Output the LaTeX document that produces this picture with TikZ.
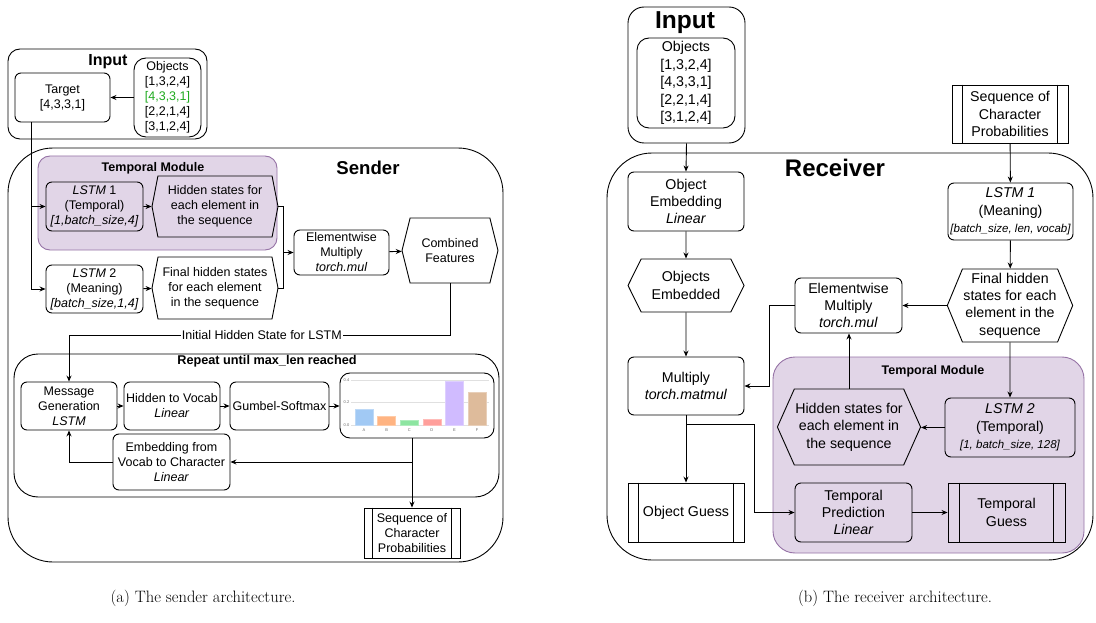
\documentclass[tikz,border=0pt]{standalone}
\usepackage{fontspec}
\newfontfamily\arialf{Liberation Sans}
\usetikzlibrary{calc,arrows.meta,shapes.symbols}

\definecolor{tmfill}{HTML}{E1D5E7}
\definecolor{tmline}{HTML}{9673A6}
\definecolor{pickgreen}{RGB}{30,170,30}
\definecolor{barA}{HTML}{A1C9F4}
\definecolor{barB}{HTML}{FFB482}
\definecolor{barC}{HTML}{8DE5A1}
\definecolor{barD}{HTML}{FF9F9B}
\definecolor{barE}{HTML}{D0BBFF}
\definecolor{barF}{HTML}{DEBB9B}

\def\lfont{\arialf\fontsize{12.5}{15}\selectfont}
\def\rfont{\arialf\fontsize{14.2}{17.4}\selectfont}
\def\sidebars(#1)(#2){\draw ($(#1.north west)+(#2,0)$) -- ($(#1.south west)+(#2,0)$); \draw ($(#1.north east)+(-#2,0)$) -- ($(#1.south east)+(-#2,0)$);}

\tikzset{
  frame/.style={draw, rounded corners=#1, inner sep=0pt},
  box/.style={draw, rounded corners=6pt, align=center, inner sep=1pt},
  hexa/.style={draw, shape=signal, signal to=east and west, signal pointer angle=#1, align=center, inner sep=1pt},
  procbox/.style={draw, align=center, inner sep=1pt},
  module/.style={draw=tmline, fill=tmfill, rounded corners=#1, inner sep=0pt},
  heading/.style={font=\arialf\bfseries\fontsize{#1}{#1}\selectfont},
  flow/.style={-{Stealth[length=6pt,width=5pt]}},
  gridline/.style={draw=black!12, line width=0.6pt},
}

\begin{document}
\begin{tikzpicture}[x=1pt, y=-1pt, line width=0.9pt]
  \useasboundingbox (0,0) rectangle (1096,623);

  %%%%% SENDER %%%%%

  % containers
  \node[frame=12pt, minimum width=199pt, minimum height=90pt] (inL) at (107.5,94) {};
  \node[heading=16] (inLtitle) at (108,62) {Input};
  \node[frame=45pt, minimum width=495pt, minimum height=414pt] (sendL) at (255.5,355) {};
  \node[heading=18.6] (sendLtitle) at (368,168) {Sender};
  \node[module=12pt, minimum width=239pt, minimum height=94pt] (tmL) at (157.5,203) {};
  \node[heading=12.5] (tmLtitle) at (153,168) {Temporal Module};
  \node[frame=24pt, minimum width=485pt, minimum height=143pt] (repL) at (256.5,425.5) {};
  \node[heading=12.7] (repLtitle) at (267,361) {Repeat until max\_len reached};

  % input
  \node[box, rounded corners=12pt, font=\lfont, minimum width=67pt, minimum height=79pt] (objL) at (167.5,97.5)
    {Objects\\{[1,3,2,4]}\\\textcolor{pickgreen}{[4,3,3,1]}\\{[2,2,1,4]}\\{[3,1,2,4]}};
  \node[box, font=\lfont, minimum width=95pt, minimum height=49pt] (tgtL) at (62.5,97.5) {Target\\{[4,3,3,1]}};

  % encoders
  \node[box, font=\lfont, minimum width=97pt, minimum height=49pt] (lstmA) at (94.5,206.5)
    {\textit{LSTM} 1\\(Temporal)\\{\itshape [1,batch\_size,4]}};
  \node[hexa=158, font=\lfont, minimum width=126pt, minimum height=61pt] (hidA) at (215,206.5)
    {Hidden states for\\each element in\\the sequence};
  \node[box, font=\lfont, minimum width=97pt, minimum height=48pt] (lstmB) at (94.5,289)
    {\textit{LSTM} 2\\(Meaning)\\{\itshape [batch\_size,1,4]}};
  \node[hexa=158, font=\lfont, minimum width=126pt, minimum height=62pt] (finB) at (215,288)
    {Final hidden states\\for each element\\in the sequence};
  \node[box, font=\lfont, minimum width=95pt, minimum height=45pt] (mulL) at (341.5,252.5)
    {Elementwise\\Multiply\\\textit{torch.mul}};
  \node[hexa=152, font=\lfont, minimum width=96pt, minimum height=65pt] (combL) at (450,250.5)
    {Combined\\Features};

  % message loop
  \node[box, font=\lfont, minimum width=96pt, minimum height=48pt] (msgL) at (69,406)
    {Message\\Generation\\\textit{LSTM}};
  \node[box, font=\lfont, minimum width=96pt, minimum height=48pt] (h2vL) at (172,406)
    {Hidden to Vocab\\\textit{Linear}};
  \node[box, font=\lfont, minimum width=99pt, minimum height=48pt] (gumL) at (279.5,406) {Gumbel-Softmax};
  \node[box, rounded corners=10pt, minimum width=154pt, minimum height=65pt] (chartL) at (417,405.5) {};
  \node[box, font=\lfont, minimum width=117pt, minimum height=56pt] (embL) at (171.5,462)
    {Embedding from\\Vocab to Character\\\textit{Linear}};
  \node[procbox, font=\lfont, minimum width=96pt, minimum height=50pt] (seqL) at (412,533)
    {Sequence of\\Character\\Probabilities};
  \sidebars(seqL)(9)

  % character distribution
  \foreach \gy/\gv [count=\g] in {425/0.0, 402.5/0.2, 380/0.4} {
    \draw[gridline] (351,\gy) -- (489,\gy);
    \node[font=\arialf\fontsize{4}{4}\selectfont, text=black!60, inner sep=0pt] (tickY\g) at (346.5,\gy) {\gv};
  }
  \foreach \lt/\val/\col [count=\i from 0] in {A/0.14/barA, B/0.08/barB, C/0.04/barC, D/0.05/barD, E/0.39/barE, F/0.29/barF} {
    \filldraw[fill=\col, draw=\col!70!white, line width=0.4pt] ({355+22.6*\i},425) rectangle ++(18,{-112.5*\val});
    \node[font=\arialf\fontsize{4}{4}\selectfont, text=black!60, inner sep=0pt] (tickX\i) at ({364+22.6*\i},430) {\lt};
  }

  % sender connectors
  \draw[flow] (objL) -- (tgtL);
  \coordinate (tgtfoot) at ($(tgtL.south west)+(17,0)$);
  \draw[flow] (tgtfoot) |- (lstmA.west);
  \draw[flow] (tgtfoot) |- (lstmB.west);
  \draw[flow] (lstmA) -- (hidA);
  \draw[flow] (lstmB) -- (finB);
  \draw (hidA.east) -- ++(5,0) |- (finB.east);
  \coordinate (joinL) at ($(hidA.east)+(5,0)$);
  \draw[flow] (joinL |- mulL.west) -- (mulL.west);
  \draw[flow] (mulL) -- (combL);
  \coordinate (bendL) at (69,335);
  \draw[flow] (combL.south) |- node[pos=0.747, fill=white, inner sep=1pt, font=\lfont] (initL) {Initial Hidden State for LSTM} (bendL) -- (msgL.north);
  \draw[flow] (msgL) -- (h2vL);
  \draw[flow] (h2vL) -- (gumL);
  \draw[flow] (gumL.east) -- (gumL.east -| chartL.west);
  \draw[flow] (seqL.north |- chartL.south) -- (seqL.north);
  \draw[flow] (seqL.north |- embL.east) -- (embL.east);
  \draw[flow] (embL.west) -| (msgL.south);

  %%%%% RECEIVER %%%%%

  % containers
  \node[frame=16pt, minimum width=117pt, minimum height=136pt] (inR) at (686.5,75) {};
  \node[heading=24.5] (inRtitle) at (685,23) {Input};
  \node[frame=45pt, minimum width=486pt, minimum height=407pt] (recR) at (850,356.5) {};
  \node[heading=24] (recRtitle) at (835,168) {Receiver};
  \node[module=22pt, minimum width=311pt, minimum height=196pt] (tmR) at (928.5,455) {};
  \node[heading=12.5] (tmRtitle) at (933,371) {Temporal Module};

  % object branch
  \node[box, rounded corners=12pt, font=\rfont, minimum width=98pt, minimum height=90pt] (objR) at (686,83)
    {Objects\\{[1,3,2,4]}\\{[4,3,3,1]}\\{[2,2,1,4]}\\{[3,1,2,4]}};
  \node[box, font=\rfont, minimum width=116pt, minimum height=59pt] (embR) at (686,201.5)
    {Object\\Embedding\\\textit{Linear}};
  \node[hexa=127, font=\rfont, minimum width=116pt, minimum height=53pt] (oembR) at (686,285.5)
    {Objects\\Embedded};
  \node[box, font=\rfont, minimum width=116pt, minimum height=58pt] (mmR) at (686,386)
    {Multiply\\\textit{torch.matmul}};
  \node[procbox, font=\rfont, minimum width=116pt, minimum height=59pt] (ogR) at (686,512.5) {Object Guess};
  \sidebars(ogR)(11)

  % message branch
  \node[procbox, font=\rfont, minimum width=116pt, minimum height=58pt] (seqR) at (1010,114)
    {Sequence of\\Character\\Probabilities};
  \sidebars(seqR)(11)
  \node[box, font=\rfont, minimum width=125pt, minimum height=57pt] (lstmR1) at (1010.5,211.5)
    {\textit{LSTM 1}\\(Meaning)\\{\itshape\fontsize{11.5}{13}\selectfont [batch\_size, len, vocab]}};
  \node[hexa=135, font=\rfont, minimum width=116pt, minimum height=73pt] (finR) at (1010,305.5)
    {Final hidden\\states for each\\element in the\\sequence};
  \node[box, font=\rfont, minimum width=107pt, minimum height=55pt] (mulR) at (848.5,305.5)
    {Elementwise\\Multiply\\\textit{torch.mul}};

  % temporal module
  \node[box, font=\rfont, minimum width=130pt, minimum height=59pt] (lstmR2) at (1010,427.5)
    {\textit{LSTM 2}\\(Temporal)\\{\itshape\fontsize{11.5}{13}\selectfont [1, batch\_size, 128]}};
  \node[hexa=132, font=\rfont, minimum width=132pt, minimum height=76pt] (hidR) at (849,427)
    {Hidden states for\\each element in\\the sequence};
  \node[box, font=\rfont, minimum width=117pt, minimum height=59pt] (tpR) at (853.5,512.5)
    {Temporal\\Prediction\\\textit{Linear}};
  \node[procbox, font=\rfont, minimum width=117pt, minimum height=59pt] (tgR) at (1006.5,512.5)
    {Temporal\\Guess};
  \sidebars(tgR)(12)

  % receiver connectors
  \draw[flow] (inR.south) -- (embR.north);
  \draw[flow] (embR) -- (oembR);
  \draw[flow] (oembR) -- (mmR);
  \draw[flow] (mmR) -- (ogR);
  \draw[flow] (seqR) -- (lstmR1);
  \draw[flow] (lstmR1) -- (finR);
  \draw[flow] (finR.west) -- (finR.west -| mulR.east);
  \draw[flow] (finR) -- (lstmR2);
  \draw[flow] (lstmR2.west) -- (lstmR2.west -| hidR.east);
  \draw[flow] (hidR.north) -- (hidR.north |- mulR.south);
  \draw[flow] (mulR.west) -- ++(-25,0) |- (mmR.east);
  \coordinate (brR) at ($(mmR.south)+(0,9)$);
  \draw[flow] (brR) -- ++(68,0) |- (tpR.west);
  \draw[flow] (tpR) -- (tgR);

  % captions
  \node[font=\fontsize{16.5}{19}\selectfont] (capA) at (203,598) {(a) The sender architecture.};
  \node[font=\fontsize{16.5}{19}\selectfont] (capB) at (895,598) {(b) The receiver architecture.};
\end{tikzpicture}
\end{document}
